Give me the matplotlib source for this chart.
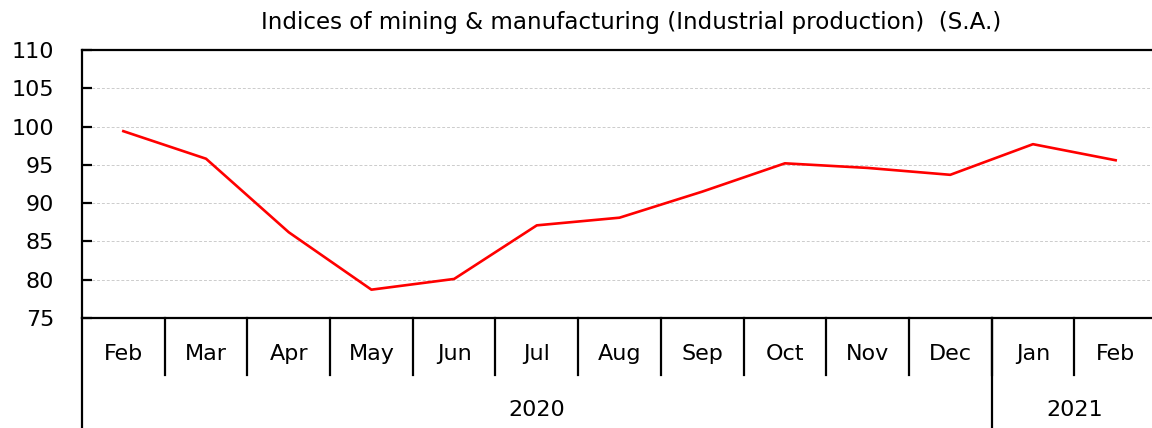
import numpy as np
import matplotlib
matplotlib.use('Agg')
import matplotlib.pyplot as plt
import matplotlib.transforms as mtransforms

# 数据
months = ['Feb', 'Mar', 'Apr', 'May', 'Jun', 'Jul', 'Aug', 'Sep', 'Oct', 'Nov', 'Dec', 'Jan', 'Feb']
years = ['2020', '2021']
year_counts = [11, 2]
values = [99.4, 95.8, 86.2, 78.7, 80.1, 87.1, 88.1, 91.5, 95.2, 94.6, 93.7, 97.7, 95.6]

W, H = 1152, 428
fig = plt.figure(figsize=(W / 100, H / 100), dpi=100)
left, right, top, bottom = 82, 1157, 50, 318
ax = fig.add_axes([left / W, 1 - bottom / H, (right - left) / W, (bottom - top) / H])

x = np.arange(len(months))
ax.plot(x, values, color='red', lw=1.9, zorder=3)

ax.set_xlim(-0.5, len(months) - 0.5)
ax.set_ylim(75, 110)
ax.set_yticks(np.arange(75, 111, 5))
for v in range(80, 110, 5):
    ax.axhline(v, color='#cccccc', lw=0.7, ls=(0, (3, 2)), zorder=1)

ax.spines['right'].set_visible(False)
for s in ['left', 'top', 'bottom']:
    ax.spines[s].set_linewidth(1.6)
ax.tick_params(axis='y', direction='in', length=7, width=1.6, labelsize=16, pad=20)
ax.set_xticks(x)
ax.set_xticklabels(months)
ax.tick_params(axis='x', length=0, labelsize=16, pad=19)

# 下方分类框线
trans = mtransforms.blended_transform_factory(ax.transData, ax.transAxes)
row1 = -(375 - bottom) / (bottom - top)
row2 = -(H - bottom) / (bottom - top)
for i in range(1, len(months)):
    ax.plot([i - 0.5, i - 0.5], [0, row1], color='black', lw=1.6, transform=trans, clip_on=False)
ax.plot([-0.5, -0.5], [0, row2], color='black', lw=1.6, transform=trans, clip_on=False)
start = 0
for yr, n in zip(years, year_counts):
    end = start + n
    if start > 0:
        ax.plot([start - 0.5, start - 0.5], [0, row2], color='black', lw=1.6, transform=trans, clip_on=False)
    ax.text((start + end - 1) / 2, -(410 - bottom) / (bottom - top), yr, ha='center', va='center',
            fontsize=16, transform=trans)
    start = end

fig.text(631 / W, 1 - 22 / H, 'Indices of mining & manufacturing (Industrial production)  (S.A.)',
         ha='center', va='center', fontsize=16.6)

fig.savefig('out.png', dpi=100)
